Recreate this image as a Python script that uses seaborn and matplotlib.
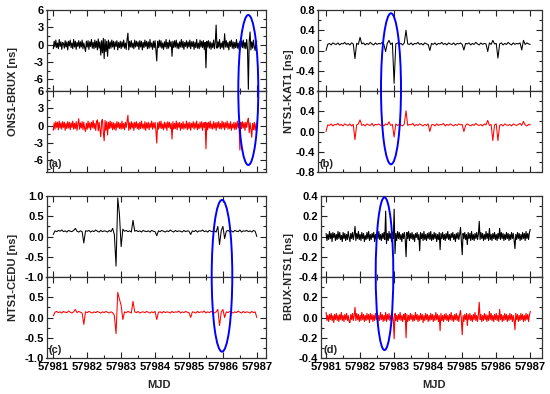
import numpy as np
import pandas as pd
import seaborn as sns
import matplotlib.pyplot as plt
from matplotlib.patches import Ellipse
from matplotlib.ticker import MultipleLocator, FormatStrFormatter, FixedLocator

# time axes, starting at MJD 57981: coarse = 0.05 day steps, fine = 0.025 day steps
mjd_start = 57981.0
mjd_coarse = mjd_start + 0.05 * np.arange(121)
mjd_fine = mjd_start + 0.025 * np.arange(241)

# (a) ONS1-BRUX [ns]  (fine grid)
ons1_brux_black = [
    -0.7, 0.6, -0.4, 0.8, -0.5, 0.3, -0.7, 0.9, -0.3, 0.5, -0.8, 0.4, 0.2, -0.6, 0.7, -0.4, 0.5, -0.9, 0.6, -0.2,
    0.8, -0.5, 0.3, -0.7, 0.9, -0.4, 0.6, -0.8, 0.4, -0.3, 0.7, -0.6, 0.5, -0.4, 0.8, -0.7, 0.3, -0.5, -1.2, 0.6,
    -0.4, 0.7, -0.8, 0.5, -0.3, 0.9, -0.6, 0.4, -0.7, 0.8, -0.5, 0.6, -0.9, 1.0, -0.6, 0.5, -1.8, 0.7, -1.4, 1.1,
    -2.4, 0.9, -1.2, 0.6, -2.0, 0.8, -0.7, 0.5, -0.6, 0.8, -0.4, 0.6, -0.8, 0.5, -0.3, 0.7, -0.9, 0.4, -0.5, 0.6,
    -0.7, 0.5, -0.4, 0.8, -0.6, 0.3, -0.8, 0.9, 2.0, -0.9, 0.6, -0.4, 0.7, -0.5, 0.3, -0.7, 0.8, -0.4, 0.6, -0.3,
    0.5, -0.8, 0.7, -0.4, 0.6, -0.9, 0.4, -0.5, 0.8, -0.3, 0.6, -0.7, 0.5, -0.6, 0.9, -0.4, 0.3, -0.8, 0.6, -0.5,
    0.7, -0.9, -2.8, 0.6, -0.5, 0.8, -0.4, 0.7, -0.6, 0.3, -0.8, 0.5, -0.4, 0.9, -0.7, 0.4, -0.6, 0.8, -0.3, 0.5,
    -2.0, 0.6, -0.5, 0.7, -0.4, 0.8, -0.6, 0.3, -0.7, 0.5, -0.4, 0.9, -0.5, 0.6, -0.8, 0.4, -0.3, 0.7, -0.6, 0.5,
    -0.4, 0.8, -0.7, 0.5, -0.3, 0.6, -0.8, 0.4, -0.5, 0.9, -0.6, 0.3, -0.7, 0.8, -0.4, 0.6, -0.5, 0.7, -0.8, 0.4,
    -4.0, 0.6, -0.4, 0.7, -0.6, 0.5, -0.8, 0.3, -0.5, 0.8, -0.7, 0.4, 3.4, -0.6, 0.5, -0.4, 0.9, -0.7, 0.3, -0.5,
    0.6, -0.8, 1.9, -0.4, 0.7, -0.5, 0.4, -0.9, 0.6, -0.3, 0.8, -0.6, 0.5, -0.7, 0.4, -0.5, 0.9, -0.6, 0.3, -0.8,
    0.6, -0.4, 0.7, -0.5, 0.8, -0.6, 0.4, -0.7, 0.9, -0.8, -7.7, 0.6, 2.2, -0.9, 0.5, -0.6, 0.8, -0.4, -1.0, 0.5,
    0.6]
ons1_brux_red = [
    -0.8, 0.5, -0.6, 0.7, -0.3, 0.6, -0.7, 0.8, -0.4, 0.5, -0.6, 0.7, -0.3, 0.6, -0.8, 0.4, -0.5, 0.7, -0.4, 0.6,
    -0.7, 0.5, -0.3, 0.8, -0.6, 0.4, -0.5, 0.7, -0.8, 0.3, 1.2, -0.6, 0.5, -0.4, 0.7, -0.7, 0.6, -0.5, -1.0, 0.4,
    -0.6, 0.8, -0.4, 0.5, -0.7, 0.6, -0.3, 0.9, -0.5, 0.4, -0.8, 0.7, 1.0, -0.9, 0.6, -0.7, -1.9, 0.8, 1.1, -1.2,
    -2.6, 0.9, -0.8, 0.7, -1.6, 0.6, -0.5, 0.8, -0.4, 0.6, -0.7, 0.5, -0.6, 0.4, -0.8, 0.7, -0.3, 0.6, -0.5, 0.4,
    -0.6, 0.8, -0.5, 0.4, -0.7, 0.6, -0.3, 0.7, 1.8, -0.8, 0.5, -0.6, 0.7, -0.4, 0.5, -0.8, 0.6, -0.3, 0.7, -0.5,
    0.4, -0.7, 0.6, -0.5, 0.8, -0.4, 0.3, -0.6, 0.7, -0.8, 0.5, -0.4, 0.6, -0.7, 0.4, -0.3, 0.8, -0.6, 0.5, -0.4,
    0.6, -0.8, -3.0, 0.5, -0.6, 0.7, -0.4, 0.8, -0.5, 0.3, -0.7, 0.6, -0.4, 0.5, -0.8, 0.7, -0.3, 0.6, -0.5, 0.4,
    -2.3, 0.7, -0.6, 0.4, -0.5, 0.8, -0.7, 0.5, -0.3, 0.6, -0.8, 0.4, -0.5, 0.7, -0.6, 0.3, -0.4, 0.8, -0.7, 0.5,
    -0.5, 0.6, -0.8, 0.4, -0.3, 0.7, -0.6, 0.5, -0.4, 0.8, -0.7, 0.3, -0.5, 0.6, -0.4, 0.7, -0.8, 0.5, -0.3, 0.6,
    -4.0, 0.5, -0.7, 0.6, -0.4, 0.8, -0.5, 0.3, -0.6, 0.7, -0.4, 0.5, -0.8, 0.6, -0.3, 0.7, -0.5, 0.4, -0.6, 0.8,
    -0.4, 0.6, -0.7, 0.5, -0.3, 0.8, -0.6, 0.4, -0.5, 0.7, -0.8, 0.3, -0.4, 0.6, -0.7, 0.5, -0.6, 0.8, -0.3, 0.4,
    -4.2, 0.6, -0.5, 0.7, -0.4, 0.5, -0.8, 0.6, -0.3, 0.7, 1.3, -1.2, 0.5, -0.6, -2.0, 0.4, -0.7, 0.6, -0.8, 0.3,
    0.5]

# (b) NTS1-KAT1 [ns]  (coarse grid)
nts1_kat1_black = [
    0.00, 0.12, 0.14, 0.11, 0.15, 0.13, 0.12, 0.15, 0.11, 0.14, 0.13, 0.16, 0.12, 0.14, 0.11, 0.15, 0.13, -0.16, 0.14, 0.12,
    0.26, 0.13, 0.15, 0.11, 0.14, 0.12, 0.16, 0.13, 0.11, 0.15, 0.12, 0.14, 0.13, 0.16, 0.12, -0.02, 0.14, 0.20, 0.12, 0.15,
    -0.65, 0.13, 0.15, 0.12, 0.14, 0.11, 0.15, 0.40, 0.13, 0.12, 0.15, 0.11, 0.14, 0.13, 0.16, 0.12, 0.14, 0.11, 0.15, 0.13,
    0.12, 0.00, 0.14, 0.12, 0.15, 0.11, 0.14, 0.13, 0.16, 0.12, 0.14, 0.11, 0.15, 0.13, 0.12, 0.15, 0.11, 0.14, 0.13, 0.15,
    0.12, 0.01, 0.14, 0.13, 0.15, 0.11, 0.14, 0.12, 0.16, 0.13, 0.11, 0.15, 0.12, 0.14, 0.13, -0.02, 0.15, 0.12, 0.20, 0.13,
    0.14, -0.15, 0.13, 0.15, 0.11, 0.14, 0.12, 0.16, 0.13, 0.11, 0.15, 0.12, 0.14, 0.13, 0.15, 0.01, 0.20, 0.12, 0.15, 0.13,
    0.12]
nts1_kat1_red = [
    0.00, 0.13, 0.12, 0.15, 0.11, 0.14, 0.13, 0.16, 0.12, 0.14, 0.11, 0.15, 0.13, 0.12, 0.15, 0.11, 0.14, -0.16, 0.13, 0.15,
    0.23, 0.12, 0.14, 0.11, 0.15, 0.13, 0.12, 0.16, 0.11, 0.14, 0.13, 0.15, 0.12, 0.14, 0.11, 0.15, 0.13, 0.19, 0.12, 0.14,
    -0.11, 0.15, 0.12, 0.14, 0.13, 0.11, 0.15, 0.41, 0.12, 0.14, 0.13, 0.16, 0.11, 0.14, 0.12, 0.15, 0.13, 0.11, 0.14, 0.12,
    0.15, 0.00, 0.13, 0.14, 0.11, 0.15, 0.12, 0.14, 0.13, 0.16, 0.11, 0.14, 0.12, 0.15, 0.13, 0.11, 0.14, 0.12, 0.15, 0.13,
    0.14, 0.00, 0.12, 0.15, 0.13, 0.11, 0.14, 0.12, 0.16, 0.13, 0.12, 0.14, 0.11, 0.15, 0.13, 0.22, 0.12, 0.14, -0.18, 0.13,
    0.15, -0.18, 0.12, 0.14, 0.11, 0.15, 0.13, 0.12, 0.14, 0.11, 0.15, 0.13, 0.12, 0.14, 0.16, 0.12, 0.20, 0.13, 0.11, 0.14,
    0.13]

# (c) NTS1-CEDU [ns]  (coarse grid)
nts1_cedu_black = [
    0.05, 0.14, 0.12, 0.15, 0.13, 0.16, 0.12, 0.14, 0.11, 0.15, 0.13, 0.12, 0.15, 0.20, 0.13, 0.11, 0.14, 0.12, -0.16, 0.14,
    0.13, 0.15, 0.11, 0.14, 0.12, 0.16, 0.13, 0.11, 0.15, 0.12, 0.14, 0.13, 0.11, 0.15, 0.12, 0.20, 0.05, -0.73, 0.95, 0.55,
    -0.25, 0.18, 0.13, 0.15, 0.12, 0.14, 0.11, 0.40, 0.13, 0.15, 0.12, 0.14, 0.11, 0.15, 0.13, 0.12, 0.14, 0.11, 0.15, 0.13,
    0.12, 0.02, 0.14, 0.12, 0.15, 0.13, 0.11, 0.14, 0.12, 0.16, 0.13, 0.11, 0.15, 0.12, 0.14, 0.13, 0.11, 0.15, 0.12, 0.14,
    0.13, 0.05, 0.14, 0.12, 0.15, 0.11, 0.14, 0.13, 0.16, 0.12, 0.14, 0.11, 0.15, 0.13, 0.12, 0.14, 0.11, 0.25, -0.20, 0.14,
    0.25, -0.05, 0.13, 0.15, 0.12, 0.14, 0.11, 0.15, 0.13, 0.12, 0.16, 0.11, 0.14, 0.13, 0.15, 0.12, 0.14, 0.11, 0.15, 0.13,
    0.00]
nts1_cedu_red = [
    0.04, 0.13, 0.15, 0.12, 0.14, 0.11, 0.15, 0.13, 0.12, 0.16, 0.13, 0.11, 0.14, 0.20, 0.12, 0.15, 0.13, 0.11, -0.17, 0.14,
    0.12, 0.15, 0.13, 0.11, 0.14, 0.12, 0.15, 0.13, 0.11, 0.14, 0.12, 0.15, 0.13, 0.11, 0.14, 0.12, 0.05, -0.40, 0.62, 0.45,
    0.30, -0.05, 0.14, 0.12, 0.15, 0.13, 0.11, 0.40, 0.14, 0.12, 0.15, 0.11, 0.13, 0.14, 0.12, 0.15, 0.13, 0.11, 0.14, 0.12,
    0.15, -0.05, 0.13, 0.14, 0.11, 0.15, 0.12, 0.14, 0.13, 0.11, 0.15, 0.12, 0.14, 0.13, 0.16, 0.11, 0.14, 0.12, 0.15, 0.13,
    0.12, 0.00, 0.14, 0.13, 0.11, 0.15, 0.12, 0.14, 0.13, 0.16, 0.11, 0.14, 0.12, 0.15, 0.13, 0.11, 0.14, 0.20, -0.20, 0.13,
    0.20, 0.00, 0.14, 0.12, 0.15, 0.13, 0.11, 0.14, 0.12, 0.16, 0.13, 0.11, 0.15, 0.12, 0.14, 0.13, 0.11, 0.15, 0.12, 0.14,
    0.00]

# (d) BRUX-NTS1 [ns]  (fine grid)
brux_nts1_black = [
    0.03, -0.04, 0.02, -0.03, 0.05, -0.02, 0.03, -0.05, 0.04, -0.01, 0.03, -0.04, 0.02, -0.03, 0.05, -0.02, 0.04, -0.03, 0.01, -0.05,
    0.04, -0.02, 0.03, -0.04, 0.02, -0.03, 0.05, -0.01, -0.05, 0.03, -0.02, 0.04, -0.03, 0.02, 0.10, -0.04, 0.03, -0.02, 0.05, -0.03,
    0.02, -0.04, 0.04, -0.02, 0.03, -0.05, 0.01, -0.03, 0.04, -0.02, 0.05, -0.04, 0.02, -0.03, 0.03, -0.01, 0.04, -0.05, 0.02, -0.03,
    0.04, -0.02, 0.05, -0.03, 0.02, -0.04, 0.03, -0.02, 0.04, -0.03, 0.25, -0.07, 0.03, -0.04, 0.05, -0.02, 0.03, -0.05, 0.04, -0.02,
    0.27, -0.17, 0.03, -0.04, 0.05, -0.02, 0.04, -0.03, 0.02, -0.05, 0.03, -0.02, 0.04, -0.03, -0.20, 0.04, -0.02, 0.05, -0.04, 0.03,
    -0.02, 0.04, -0.03, 0.02, -0.05, 0.03, -0.01, 0.04, -0.03, 0.02, -0.14, 0.04, -0.02, 0.03, -0.04, 0.05, -0.03, 0.02, -0.04, 0.03,
    -0.02, 0.04, -0.03, 0.05, -0.04, 0.02, -0.03, 0.04, -0.02, 0.03, -0.05, 0.02, -0.03, 0.04, -0.13, 0.03, -0.02, 0.04, -0.03, 0.02,
    -0.04, 0.03, -0.02, 0.05, -0.03, 0.02, -0.04, 0.03, -0.01, 0.04, -0.03, 0.02, -0.05, 0.03, -0.02, 0.04, -0.03, 0.02, 0.09, -0.04,
    -0.18, 0.03, -0.02, 0.04, -0.03, 0.02, -0.08, 0.04, -0.02, 0.03, -0.04, 0.05, -0.03, 0.02, -0.04, 0.03, -0.02, 0.04, -0.03, 0.02,
    0.15, -0.03, 0.04, -0.02, 0.03, -0.04, 0.02, -0.03, 0.05, -0.02, 0.03, -0.04, 0.08, -0.03, 0.02, -0.04, 0.03, -0.02, 0.04, -0.03,
    0.02, -0.04, 0.03, -0.02, 0.08, -0.03, 0.04, -0.02, 0.03, -0.04, 0.02, -0.03, 0.04, -0.02, 0.03, -0.04, 0.02, -0.03, 0.04, -0.02,
    0.03, -0.04, -0.12, 0.02, -0.03, 0.04, -0.02, 0.03, -0.04, 0.02, -0.03, 0.04, -0.02, 0.03, -0.04, 0.05, -0.02, 0.03, -0.03, 0.04,
    0.07]
brux_nts1_red = [
    0.05, -0.03, 0.02, -0.04, 0.03, -0.02, 0.04, -0.03, 0.02, -0.05, 0.03, -0.02, 0.04, -0.03, 0.02, -0.04, 0.03, -0.02, 0.05, -0.03,
    0.02, -0.04, 0.03, -0.02, 0.04, -0.03, 0.02, -0.04, -0.05, 0.03, -0.02, 0.04, -0.03, 0.02, 0.10, -0.03, 0.04, -0.02, 0.03, -0.04,
    0.02, -0.03, 0.05, -0.02, 0.03, -0.04, 0.02, -0.03, 0.04, -0.02, 0.03, -0.05, 0.04, -0.02, 0.03, -0.04, 0.02, -0.03, 0.04, -0.02,
    0.03, -0.04, 0.02, -0.03, 0.05, -0.02, 0.03, -0.04, 0.02, -0.03, 0.05, -0.04, 0.03, -0.02, 0.04, -0.03, 0.02, -0.04, 0.03, -0.02,
    -0.21, 0.04, -0.03, 0.02, -0.04, 0.03, -0.02, 0.05, -0.03, 0.02, -0.04, 0.03, -0.02, 0.04, -0.20, 0.03, -0.04, 0.02, -0.03, 0.04,
    -0.02, 0.03, -0.04, 0.02, -0.03, 0.05, -0.02, 0.03, -0.04, 0.02, -0.03, 0.04, -0.02, 0.03, -0.05, 0.02, -0.03, 0.04, -0.02, 0.03,
    -0.04, 0.02, -0.03, 0.04, -0.02, 0.03, -0.04, 0.02, -0.03, 0.05, -0.02, 0.03, -0.04, 0.02, -0.13, 0.04, -0.03, 0.02, -0.04, 0.03,
    -0.02, 0.04, -0.03, 0.02, -0.04, 0.03, -0.02, 0.05, -0.03, 0.02, -0.04, 0.03, -0.02, 0.04, -0.03, 0.02, -0.04, 0.03, 0.07, -0.02,
    -0.17, 0.02, -0.04, 0.03, -0.02, 0.04, -0.08, 0.03, -0.02, 0.04, -0.03, 0.02, -0.04, 0.03, -0.02, 0.05, -0.03, 0.02, -0.04, 0.03,
    0.15, -0.02, 0.03, -0.04, 0.02, -0.03, 0.04, -0.02, 0.03, -0.04, 0.02, -0.03, 0.06, -0.02, 0.04, -0.03, 0.02, -0.04, 0.03, -0.02,
    0.04, -0.03, 0.02, -0.04, 0.08, -0.02, 0.03, -0.04, 0.02, -0.03, 0.04, -0.02, 0.03, -0.04, 0.02, -0.03, 0.04, -0.02, 0.03, -0.04,
    0.02, -0.03, -0.12, 0.04, -0.02, 0.03, -0.04, 0.02, -0.03, 0.04, -0.02, 0.03, -0.04, 0.02, -0.03, 0.04, -0.02, 0.03, -0.04, 0.02,
    0.06]

x_ticks = [57981, 57982, 57983, 57984, 57985, 57986, 57987]

sns.set_style("ticks")
plt.rcParams['font.family'] = ['Liberation Sans', 'DejaVu Sans']
plt.rcParams['font.weight'] = 'bold'
plt.rcParams['axes.labelweight'] = 'bold'
plt.rcParams['axes.unicode_minus'] = False

W, H = 550, 394
fig = plt.figure(figsize=(W / 100, H / 100), dpi=100)


def px_rect(left, right, top, bottom):
    return [left / W, 1 - bottom / H, (right - left) / W, (bottom - top) / H]


panels = [
    dict(name='ONS1-BRUX [ns]', letter='(a)', mjd=mjd_fine, black=ons1_brux_black, red=ons1_brux_red, lw=0.8,
         ylim=(-8, 6), top_ticks=[-6, -3, 0, 3, 6], bot_ticks=[-6, -3, 0, 3, 6], minor=1.5, fmt='%d',
         box=(46.5, 266, 10, 91, 172), xlim=(57980.80, 57987.27), ylab_x=13, xlab=False,
         ell=(248.3, 90, 20, 150)),
    dict(name='NTS1-KAT1 [ns]', letter='(b)', mjd=mjd_coarse, black=nts1_kat1_black, red=nts1_kat1_red, lw=0.75,
         ylim=(-0.8, 0.8), top_ticks=[-0.8, -0.4, 0, 0.4, 0.8], bot_ticks=[-0.8, -0.4, 0, 0.4], minor=0.2, fmt='%.1f',
         box=(317.5, 541.5, 10, 91, 172), xlim=(57980.75, 57987.33), ylab_x=289, xlab=False,
         ell=(391, 88.8, 20, 151)),
    dict(name='NTS1-CEDU [ns]', letter='(c)', mjd=mjd_coarse, black=nts1_cedu_black, red=nts1_cedu_red, lw=0.75,
         ylim=(-1.0, 1.0), top_ticks=[-1.0, -0.5, 0, 0.5, 1.0], bot_ticks=[-1.0, -0.5, 0, 0.5], minor=0.25, fmt='%.1f',
         box=(46.5, 266, 196, 277, 358), xlim=(57980.80, 57987.27), ylab_x=13, xlab=True,
         ell=(222, 275.8, 20.6, 151.7)),
    dict(name='BRUX-NTS1 [ns]', letter='(d)', mjd=mjd_fine, black=brux_nts1_black, red=brux_nts1_red, lw=0.8,
         ylim=(-0.4, 0.4), top_ticks=[-0.4, -0.2, 0, 0.2, 0.4], bot_ticks=[-0.4, -0.2, 0, 0.2], minor=0.1, fmt='%.1f',
         box=(321, 541.5, 196, 277, 358), xlim=(57980.85, 57987.33), ylab_x=289, xlab=True,
         ell=(384.5, 273.7, 17.6, 152.7)),
]

for p in panels:
    l, r, t, m, b = p['box']
    ax_top = fig.add_axes(px_rect(l, r, t, m))
    ax_bot = fig.add_axes(px_rect(l, r, m, b))
    df = pd.DataFrame({'mjd': p['mjd'], 'black': p['black'], 'red': p['red']})
    sns.lineplot(data=df, x='mjd', y='black', ax=ax_top, color='black', lw=p['lw'], estimator=None)
    sns.lineplot(data=df, x='mjd', y='red', ax=ax_bot, color='#ff0000', lw=p['lw'], estimator=None)

    for ax, ticks in [(ax_top, p['top_ticks']), (ax_bot, p['bot_ticks'])]:
        ax.set_xlim(*p['xlim'])
        ax.set_ylim(*p['ylim'])
        ax.set_xlabel('')
        ax.set_ylabel('')
        ax.xaxis.set_major_locator(FixedLocator(x_ticks))
        ax.xaxis.set_minor_locator(MultipleLocator(0.5))
        ax.xaxis.set_major_formatter(FormatStrFormatter('%d'))
        ax.yaxis.set_major_locator(FixedLocator(ticks))
        ax.yaxis.set_minor_locator(MultipleLocator(p['minor']))
        ax.yaxis.set_major_formatter(FormatStrFormatter(p['fmt']))
        ax.tick_params(which='both', direction='in', top=True, right=True, width=0.8,
                       labelsize=8, colors='#222222', labelcolor='black', pad=2)
        ax.tick_params(which='major', length=4)
        ax.tick_params(which='minor', length=2)
        ax.tick_params(axis='x', pad=3)
        for s in ax.spines.values():
            s.set_linewidth(0.9)
            s.set_color('#333333')
    ax_top.tick_params(labelbottom=False)
    ax_bot.tick_params(labelbottom=p['xlab'])
    if p['xlab']:
        fig.text((l + r) / 2 / W + 0.005, 1 - 385 / H, 'MJD', ha='center', va='center',
                 fontsize=8, fontweight='bold')

    ax_bot.text(0.01, 0.04, p['letter'], transform=ax_bot.transAxes, ha='left', va='bottom',
                fontsize=8, fontweight='bold')
    fig.text(p['ylab_x'] / W, 1 - m / H, p['name'], rotation=90, ha='center', va='center',
             fontsize=8, fontweight='bold')

    cx, cy, ew, eh = p['ell']
    fig.add_artist(Ellipse((cx / W, 1 - cy / H), ew / W, eh / H, transform=fig.transFigure,
                           fill=False, edgecolor='#0000ff', lw=1.4, zorder=10))

fig.savefig('out.png', dpi=100)
